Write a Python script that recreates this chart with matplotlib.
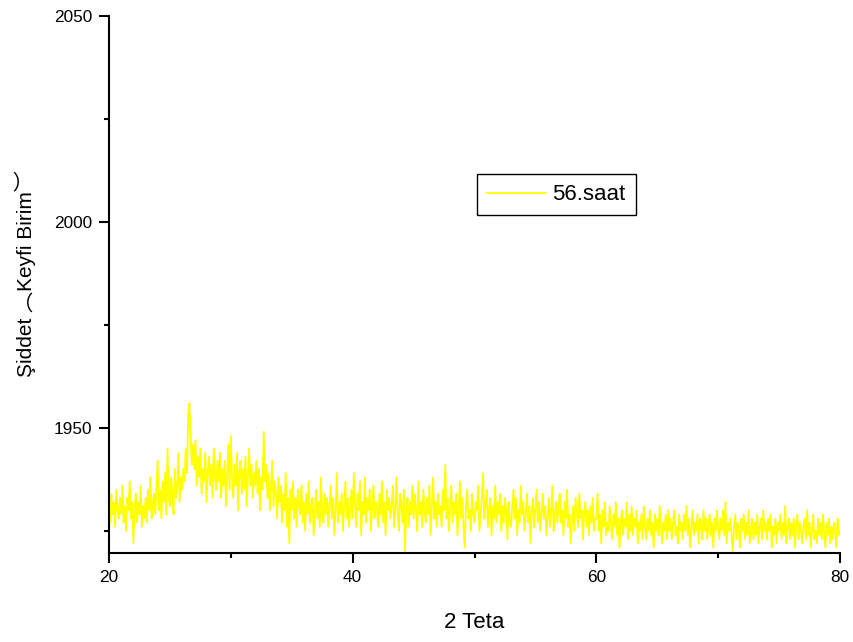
import numpy as np
import matplotlib
matplotlib.use("Agg")
import matplotlib.pyplot as plt
from matplotlib.ticker import MultipleLocator

# ---- data (intensity, step 0.1 degree in 2-theta) ----
intensity_20_30 = [
    1931, 1927, 1934, 1929, 1932, 1926, 1935, 1930, 1928, 1933,
    1929, 1936, 1927, 1931, 1925, 1933, 1930, 1937, 1928, 1932,
    1922, 1930, 1934, 1927, 1932, 1929, 1936, 1926, 1931, 1928,
    1933, 1927, 1935, 1930, 1938, 1928, 1932, 1934, 1929, 1936,
    1942, 1930, 1935, 1928, 1937, 1932, 1939, 1929, 1945, 1933,
    1931, 1938, 1934, 1929, 1940, 1933, 1936, 1944, 1932, 1938,
    1935, 1940, 1937, 1945, 1939, 1953, 1956, 1948, 1941, 1946,
    1940, 1947, 1936, 1943, 1938, 1945, 1934, 1940, 1937, 1944,
    1932, 1939, 1943, 1936, 1941, 1933, 1945, 1938, 1935, 1942,
    1937, 1944, 1933, 1940, 1936, 1942, 1931, 1939, 1946, 1935,
]
intensity_30_40 = [
    1948, 1938, 1933, 1941, 1936, 1944, 1930, 1939, 1942, 1934,
    1940, 1935, 1943, 1931, 1938, 1945, 1936, 1941, 1933, 1939,
    1936, 1942, 1934, 1940, 1930, 1938, 1935, 1949, 1937, 1941,
    1933, 1939, 1930, 1936, 1942, 1931, 1937, 1934, 1928, 1938,
    1932, 1936, 1927, 1934, 1930, 1939, 1926, 1933, 1922, 1935,
    1930, 1937, 1928, 1933, 1926, 1935, 1931, 1929, 1936, 1927,
    1932, 1925, 1934, 1929, 1937, 1927, 1931, 1933, 1924, 1930,
    1935, 1928, 1932, 1926, 1938, 1930, 1927, 1934, 1929, 1933,
    1926, 1931, 1936, 1928, 1933, 1924, 1930, 1939, 1927, 1932,
    1929, 1934, 1925, 1931, 1937, 1928, 1933, 1926, 1930, 1935,
]
intensity_40_50 = [
    1928, 1939, 1931, 1926, 1934, 1930, 1937, 1924, 1932, 1929,
    1938, 1927, 1933, 1930, 1935, 1925, 1931, 1936, 1928, 1932,
    1930, 1926, 1934, 1929, 1937, 1927, 1932, 1924, 1935, 1930,
    1933, 1928, 1931, 1936, 1926, 1930, 1938, 1929, 1925, 1934,
    1931, 1927, 1935, 1920, 1930, 1933, 1926, 1932, 1929, 1936,
    1928, 1934, 1930, 1925, 1937, 1929, 1932, 1926, 1935, 1930,
    1927, 1933, 1929, 1936, 1924, 1931, 1938, 1928, 1932, 1926,
    1934, 1929, 1931, 1926, 1935, 1930, 1941, 1928, 1933, 1925,
    1931, 1936, 1927, 1932, 1929, 1934, 1924, 1930, 1937, 1928,
    1933, 1926, 1921, 1931, 1935, 1928, 1930, 1925, 1934, 1929,
]
intensity_50_60 = [
    1927, 1932, 1930, 1936, 1925, 1929, 1933, 1939, 1928, 1931,
    1935, 1926, 1930, 1933, 1924, 1931, 1928, 1936, 1927, 1932,
    1929, 1934, 1925, 1931, 1927, 1933, 1930, 1923, 1932, 1928,
    1926, 1931, 1935, 1928, 1933, 1924, 1930, 1927, 1936, 1929,
    1932, 1925, 1929, 1934, 1927, 1931, 1922, 1930, 1933, 1926,
    1930, 1935, 1927, 1932, 1925, 1929, 1934, 1928, 1931, 1924,
    1928, 1933, 1926, 1930, 1936, 1925, 1929, 1932, 1927, 1931,
    1934, 1927, 1930, 1924, 1932, 1928, 1935, 1926, 1929, 1922,
    1927, 1931, 1925, 1933, 1929, 1926, 1934, 1928, 1930, 1923,
    1929, 1932, 1926, 1930, 1924, 1931, 1927, 1933, 1925, 1928,
]
intensity_60_70 = [
    1928, 1934, 1925, 1929, 1922, 1930, 1926, 1932, 1924, 1927,
    1925, 1931, 1927, 1923, 1929, 1926, 1932, 1924, 1928, 1921,
    1927, 1930, 1924, 1928, 1926, 1932, 1923, 1929, 1925, 1931,
    1924, 1928, 1926, 1930, 1922, 1927, 1925, 1929, 1923, 1931,
    1926, 1923, 1928, 1925, 1930, 1924, 1927, 1921, 1929, 1925,
    1928, 1924, 1931, 1926, 1922, 1927, 1925, 1929, 1923, 1930,
    1925, 1928, 1923, 1927, 1930, 1924, 1926, 1922, 1929, 1925,
    1927, 1923, 1929, 1925, 1931, 1924, 1928, 1921, 1926, 1930,
    1924, 1927, 1925, 1929, 1922, 1928, 1926, 1923, 1930, 1925,
    1928, 1923, 1926, 1929, 1924, 1927, 1921, 1928, 1925, 1930,
]
intensity_70_80 = [
    1926, 1923, 1928, 1925, 1930, 1924, 1932, 1922, 1927, 1925,
    1928, 1924, 1920, 1926, 1929, 1923, 1927, 1925, 1921, 1928,
    1925, 1929, 1923, 1927, 1924, 1930, 1922, 1926, 1928, 1923,
    1927, 1924, 1929, 1922, 1926, 1928, 1923, 1930, 1925, 1927,
    1923, 1928, 1925, 1929, 1921, 1926, 1924, 1928, 1922, 1927,
    1925, 1929, 1923, 1927, 1924, 1931, 1922, 1926, 1928, 1923,
    1927, 1924, 1928, 1921, 1926, 1929, 1923, 1927, 1925, 1922,
    1926, 1928, 1923, 1930, 1924, 1927, 1921, 1925, 1929, 1923,
    1925, 1922, 1928, 1924, 1927, 1923, 1929, 1925, 1921, 1927,
    1924, 1928, 1922, 1926, 1923, 1927, 1925, 1921, 1928, 1924,
    1925,
]

intensity = np.array(intensity_20_30 + intensity_30_40 + intensity_40_50
                     + intensity_50_60 + intensity_60_70 + intensity_70_80, dtype=float)
two_theta = np.linspace(20, 80, len(intensity))

series_label = "56.saat"
x_label = "2 Teta"
y_label = "Şiddet ︵Keyfi Birim︶"
x_ticks = [20, 40, 60, 80]
y_ticks = [1950, 2000, 2050]

# ---- figure ----
plt.rcParams['font.family'] = ['Liberation Sans', 'DejaVu Sans']
fig = plt.figure(figsize=(8.54, 6.42), dpi=100)
ax = fig.add_axes([109 / 854, 1 - 552.7 / 642, (840 - 109) / 854, (552.7 - 15.7) / 642])

ax.plot(two_theta, intensity, color='#FFFF00', linewidth=1.3, label=series_label)

ax.set_xlim(20, 80)
ax.set_ylim(1919.7, 2050)
ax.set_xticks(x_ticks)
ax.set_yticks(y_ticks)
ax.xaxis.set_minor_locator(MultipleLocator(10))
ax.yaxis.set_minor_locator(MultipleLocator(25))

for s in ['top', 'right']:
    ax.spines[s].set_visible(False)
for s in ['left', 'bottom']:
    ax.spines[s].set_linewidth(1.5)

ax.tick_params(which='major', direction='out', length=7.2, width=1.5,
               labelsize=12.4, pad=5, colors='black')
ax.tick_params(which='minor', direction='out', length=3.6, width=1.5)

ax.set_xlabel(x_label, fontsize=16, labelpad=20)
ax.set_ylabel(y_label, fontsize=15,
              family=['Liberation Sans', 'Noto Sans CJK SC', 'DejaVu Sans'])
ax.yaxis.set_label_coords((36 - 109) / 731, (552.7 - 274) / 537)

leg = ax.legend(loc='upper left', bbox_to_anchor=((477 - 109) / 731, (552.7 - 174.3) / 537),
                borderaxespad=0, fontsize=16, frameon=True, fancybox=False,
                handlelength=2.65, handletextpad=0.3, borderpad=0.45)
leg.get_frame().set_edgecolor('black')
leg.get_frame().set_linewidth(1.0)
leg.get_frame().set_alpha(1)

fig.savefig('out.png', dpi=100)
